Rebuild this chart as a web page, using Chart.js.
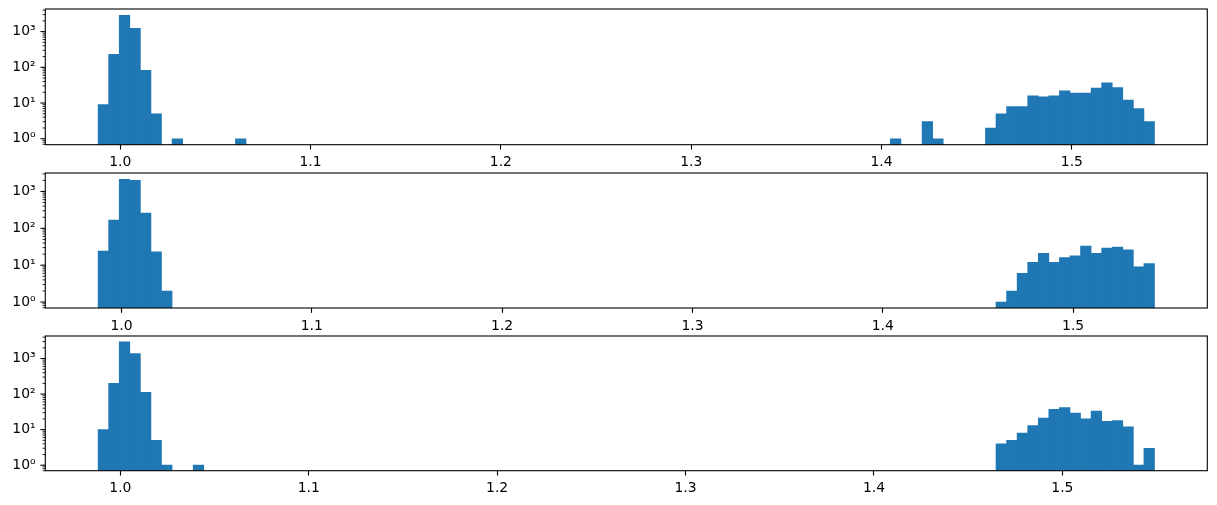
<!DOCTYPE html>
<html>
<head>
<meta charset="utf-8">
<script src="https://cdn.jsdelivr.net/npm/chart.js@4/dist/chart.umd.min.js"></script>
<style>
  html, body { margin: 0; padding: 0; background: #fff; }
  #wrap { position: relative; width: 1217px; height: 505px; background: #fff; overflow: hidden; }
  canvas { position: absolute; left: 0; }
</style>
</head>
<body>
<div id="wrap"></div>
<script>
// ---------- data (bin centres and counts) ----------
const xTickValues = [1.0, 1.1, 1.2, 1.3, 1.4, 1.5];

const binsTop = [0.991175, 0.996725, 1.002275, 1.007825, 1.013375, 1.018925, 1.030025, 1.063325,
  1.407425, 1.424075, 1.429625, 1.457375, 1.462925, 1.468475, 1.474025, 1.479575, 1.485125,
  1.490675, 1.496225, 1.501775, 1.507325, 1.512875, 1.518425, 1.523975, 1.529525, 1.535075, 1.540625];
const countsTop = [9, 230, 2850, 1230, 82, 5, 1, 1,
  1, 3, 1, 2, 5, 8, 8, 16, 15,
  16, 22, 19, 19, 26, 37, 27, 12, 7, 3];

const binsMid = [0.990525, 0.996075, 1.001625, 1.007175, 1.012725, 1.018275, 1.023825,
  1.462275, 1.467825, 1.473375, 1.478925, 1.484475, 1.490025, 1.495575, 1.501125,
  1.506675, 1.512225, 1.517775, 1.523325, 1.528875, 1.534425, 1.539975];
const countsMid = [24, 167, 2150, 2020, 259, 23, 2,
  1, 2, 6, 12, 21, 12, 16, 18,
  33, 21, 29, 31, 26, 9, 11];

const binsBot = [0.991004, 0.996611, 1.002218, 1.007825, 1.013432, 1.019039, 1.024646, 1.041467,
  1.467599, 1.473206, 1.478813, 1.484420, 1.490027, 1.495634, 1.501241, 1.506848,
  1.512455, 1.518062, 1.523669, 1.529276, 1.534883, 1.540490, 1.546097];
const countsBot = [10, 200, 2965, 1370, 112, 5, 1, 1,
  4, 5, 8, 13, 21, 37, 42, 29,
  20, 33, 17, 18, 12, 1, 3];

// ---------- layout ----------
const panels = [
  { bins: binsTop, counts: countsTop, axTop: 9.3,   axH: 135.7, xMin: 0.96065, xMax: 1.57115, yMin: 0.68, yMax: 4300 },
  { bins: binsMid, counts: countsMid, axTop: 172.7, axH: 135.0, xMin: 0.96000, xMax: 1.57050, yMin: 0.69, yMax: 3170 },
  { bins: binsBot, counts: countsBot, axTop: 336.3, axH: 134.7, xMin: 0.96017, xMax: 1.57694, yMin: 0.72, yMax: 4300 }
];

const AX_LEFT = 45.3, AX_RIGHT = 1207.3, W = 1217;
const PAD_TOP = 5, XAX_H = 30;
const FONT = { family: "'DejaVu Sans', sans-serif", size: 13.9 };
const MAJ = 4.86, MIN_LEN = 2.78;
const SUP = ['\u2070', '\u00B9', '\u00B2', '\u00B3', '\u2074'];

function isPow10(v) {
  const l = Math.log10(v);
  return Math.abs(l - Math.round(l)) < 1e-9;
}

const framePlugin = {
  id: 'mplFrame',
  afterDraw(chart) {
    const { ctx, chartArea: a } = chart;
    const y = chart.scales.y;
    ctx.save();
    ctx.strokeStyle = '#000';
    y.ticks.forEach(t => {
      const p = y.getPixelForValue(t.value);
      const major = isPow10(t.value);
      ctx.lineWidth = major ? 1.1 : 0.83;
      const len = major ? MAJ : MIN_LEN;
      ctx.beginPath();
      ctx.moveTo(a.left, p);
      ctx.lineTo(a.left - len, p);
      ctx.stroke();
    });
    ctx.lineWidth = 1.1;
    ctx.strokeRect(a.left, a.top, a.right - a.left, a.bottom - a.top);
    ctx.restore();
  }
};

const wrap = document.getElementById('wrap');
panels.forEach(pn => {
  const cv = document.createElement('canvas');
  const h = Math.round(pn.axH + PAD_TOP + XAX_H);
  cv.width = W; cv.height = h;
  cv.style.width = W + 'px'; cv.style.height = h + 'px';
  cv.style.top = (pn.axTop - PAD_TOP) + 'px';
  wrap.appendChild(cv);

  new Chart(cv.getContext('2d'), {
    type: 'bar',
    data: {
      datasets: [{
        data: pn.bins.map((b, i) => ({ x: b, y: pn.counts[i] })),
        backgroundColor: '#1f77b4',
        borderWidth: 0,
        barPercentage: 1.0,
        categoryPercentage: 1.0
      }]
    },
    options: {
      responsive: false,
      devicePixelRatio: 1,
      animation: false,
      layout: { padding: { left: 0, right: W - AX_RIGHT, top: PAD_TOP, bottom: h - PAD_TOP - pn.axH - XAX_H } },
      plugins: { legend: { display: false }, tooltip: { enabled: false } },
      scales: {
        x: {
          type: 'linear',
          offset: false,
          min: pn.xMin,
          max: pn.xMax,
          grid: { display: true, offset: false, drawOnChartArea: false, drawTicks: true,
                  tickLength: MAJ, tickWidth: 1.1, tickColor: '#000' },
          border: { display: false },
          ticks: {
            color: '#000', font: FONT, padding: MAJ, maxRotation: 0, autoSkip: false,
            callback: v => Number(v).toFixed(1)
          },
          afterBuildTicks: s => { s.ticks = xTickValues.map(v => ({ value: v })); },
          afterFit: s => { s.height = XAX_H; s.paddingLeft = 0; s.paddingRight = 0; s.paddingTop = 0; s.paddingBottom = 0; }
        },
        y: {
          type: 'logarithmic',
          min: pn.yMin,
          max: pn.yMax,
          grid: { display: true, drawOnChartArea: false, drawTicks: true,
                  tickLength: MAJ, tickColor: 'rgba(0,0,0,0)' },
          border: { display: false },
          ticks: {
            color: '#000', font: FONT, padding: MAJ, autoSkip: false,
            callback: v => isPow10(v) ? '10' + SUP[Math.round(Math.log10(v))] : ''
          },
          afterBuildTicks: s => {
            const t = [];
            for (let e = -1; e <= 4; e++) {
              for (let m = 1; m <= 9; m++) {
                const v = m * Math.pow(10, e);
                if (v >= s.min && v <= s.max) t.push({ value: v });
              }
            }
            s.ticks = t;
          },
          afterFit: s => { s.width = AX_LEFT; s.paddingTop = 0; s.paddingBottom = 0; s.paddingLeft = 0; s.paddingRight = 0; }
        }
      }
    },
    plugins: [framePlugin]
  });
});
</script>
</body>
</html>
